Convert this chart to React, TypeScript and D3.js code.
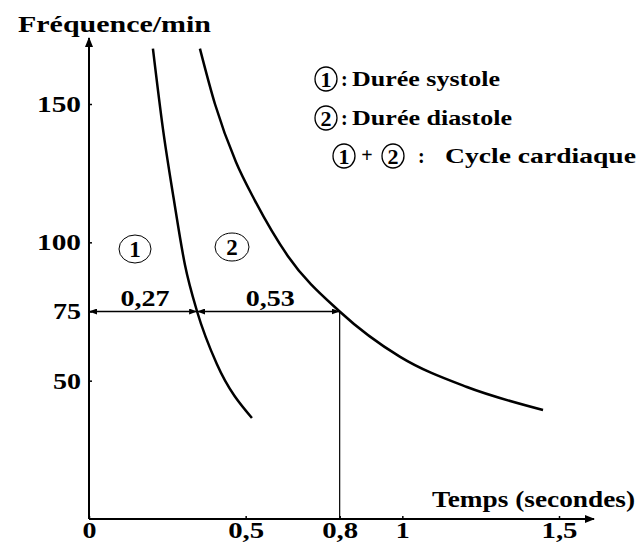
import { useCallback, useEffect, useRef } from 'react';

import {
  axisBottom,
  axisLeft,
  curveMonotoneX,
  line,
  scaleLinear,
  select,
} from 'd3';

// systole duration (1) : time in seconds vs heart rate (beats/min)
const systoleTime = [0.204, 0.236, 0.27, 0.306, 0.345, 0.408, 0.52];
const systoleFreq = [170, 141, 116, 92, 75, 56, 36.5];

// cardiac cycle duration (1)+(2)
const cycleTime = [0.354, 0.402, 0.469, 0.53, 0.635, 0.8, 0.993, 1.206, 1.449];
const cycleFreq = [170, 150, 129, 115, 95, 75, 58.6, 47.7, 39.4];

const xTicks = [0, 0.5, 0.8, 1, 1.5];
const yTicks = [50, 75, 100, 150];

const refFreq = 75;
const refSystole = 0.345;
const refCycle = 0.8;
const systoleLabel = '0,27';
const diastoleLabel = '0,53';

const legendRows = ['Durée systole', 'Durée diastole', 'Cycle cardiaque'];

const FONT = "'Liberation Serif', 'Times New Roman', serif";

export default function App() {
  const containerRef = useRef<HTMLDivElement>(null);

  const initChart = useCallback(() => {
    const container = containerRef.current;
    if (!container) return;

    const width = 638,
      height = 545;

    const div = select(container);
    div.select('svg').remove();

    const svg = div
      .append('svg')
      .attr('width', width)
      .attr('height', height)
      .style('display', 'block')
      .attr('font-family', FONT)
      .attr('font-weight', 'bold');

    svg.append('rect').attr('width', width).attr('height', height).attr('fill', '#fff');

    const x = scaleLinear().domain([0, 1.5]).range([89, 559]);
    const y = scaleLinear().domain([0, 150]).range([519, 104]);

    // arrow markers
    const defs = svg.append('defs');
    defs
      .append('marker')
      .attr('id', 'head')
      .attr('viewBox', '0 0 8 6')
      .attr('refX', 8)
      .attr('refY', 3)
      .attr('markerWidth', 8)
      .attr('markerHeight', 6)
      .attr('markerUnits', 'userSpaceOnUse')
      .attr('orient', 'auto-start-reverse')
      .append('path')
      .attr('d', 'M0,0L8,3L0,6Z')
      .attr('fill', '#000');
    defs
      .append('marker')
      .attr('id', 'axishead')
      .attr('viewBox', '0 0 10 8')
      .attr('refX', 9)
      .attr('refY', 4)
      .attr('markerWidth', 10)
      .attr('markerHeight', 8)
      .attr('markerUnits', 'userSpaceOnUse')
      .attr('orient', 'auto')
      .append('path')
      .attr('d', 'M0,0L10,4L0,8Z')
      .attr('fill', '#000');

    // axes lines with arrows
    svg
      .append('line')
      .attr('x1', x(0))
      .attr('y1', y(0))
      .attr('x2', x(0))
      .attr('y2', 38)
      .attr('stroke', '#000')
      .attr('stroke-width', 2)
      .attr('marker-end', 'url(#axishead)');
    svg
      .append('line')
      .attr('x1', x(0))
      .attr('y1', y(0))
      .attr('x2', 594)
      .attr('y2', y(0))
      .attr('stroke', '#000')
      .attr('stroke-width', 2)
      .attr('marker-end', 'url(#axishead)');

    // X axis ticks
    svg
      .append('g')
      .attr('transform', `translate(0,${y(0)})`)
      .call(
        axisBottom(x)
          .tickValues(xTicks)
          .tickSize(-3)
          .tickPadding(3)
          .tickFormat((d) => String(d).replace('.', ','))
      )
      .call((g) => {
        g.select('.domain').remove();
        g.selectAll('line').attr('stroke-width', 1.5);
        g.selectAll<SVGTextElement, number>('text')
          .attr('font-family', FONT)
          .attr('font-weight', 'bold')
          .attr('font-size', 23)
          .attr('fill', '#000')
          .attr('textLength', (d) => (String(d).length > 1 ? 36 : 14))
          .attr('lengthAdjust', 'spacingAndGlyphs');
      });

    // Y axis ticks
    svg
      .append('g')
      .attr('transform', `translate(${x(0)},0)`)
      .call(axisLeft(y).tickValues(yTicks).tickSize(-3).tickPadding(8))
      .call((g) => {
        g.select('.domain').remove();
        g.selectAll('line').attr('stroke-width', 1.5);
        g.selectAll<SVGTextElement, number>('text')
          .attr('font-family', FONT)
          .attr('font-weight', 'bold')
          .attr('font-size', 23)
          .attr('fill', '#000')
          .attr('textLength', (d) => (d >= 100 ? 44 : 28))
          .attr('lengthAdjust', 'spacingAndGlyphs');
      });

    // axis titles
    svg
      .append('text')
      .attr('x', 18)
      .attr('y', 32)
      .attr('font-size', 24)
      .attr('textLength', 193)
      .attr('lengthAdjust', 'spacingAndGlyphs')
      .text('Fréquence/min');
    svg
      .append('text')
      .attr('x', 432)
      .attr('y', 507)
      .attr('font-size', 23)
      .attr('textLength', 203)
      .attr('lengthAdjust', 'spacingAndGlyphs')
      .text('Temps (secondes)');

    // curves
    const curve = line<[number, number]>()
      .x((d) => x(d[0]))
      .y((d) => y(d[1]))
      .curve(curveMonotoneX);

    const curves = [
      systoleTime.map((t, i) => [t, systoleFreq[i]] as [number, number]),
      cycleTime.map((t, i) => [t, cycleFreq[i]] as [number, number]),
    ];
    svg
      .append('g')
      .selectAll('path')
      .data(curves)
      .join('path')
      .attr('d', (d) => curve(d))
      .attr('fill', 'none')
      .attr('stroke', '#000')
      .attr('stroke-width', 2.5);

    // reference lines at 75 / min
    svg
      .append('line')
      .attr('x1', x(refCycle))
      .attr('y1', y(refFreq))
      .attr('x2', x(refCycle))
      .attr('y2', y(0))
      .attr('stroke', '#000')
      .attr('stroke-width', 1.2);
    const spans = [
      { a: 0, b: refSystole, label: systoleLabel },
      { a: refSystole, b: refCycle, label: diastoleLabel },
    ];
    spans.forEach((s) => {
      svg
        .append('line')
        .attr('x1', x(s.a))
        .attr('y1', y(refFreq))
        .attr('x2', x(s.b))
        .attr('y2', y(refFreq))
        .attr('stroke', '#000')
        .attr('stroke-width', 1.5)
        .attr('marker-start', 'url(#head)')
        .attr('marker-end', 'url(#head)');
      svg
        .append('text')
        .attr('x', (x(s.a) + x(s.b)) / 2 + 2)
        .attr('y', y(refFreq) - 6)
        .attr('text-anchor', 'middle')
        .attr('font-size', 24)
        .attr('textLength', 49)
        .attr('lengthAdjust', 'spacingAndGlyphs')
        .text(s.label);
    });

    // circled numbers
    const circled = (cx: number, cy: number, label: string, rx: number, ry: number, fs: number, sw: number) => {
      const g = svg.append('g');
      g.append('ellipse')
        .attr('cx', cx)
        .attr('cy', cy)
        .attr('rx', rx)
        .attr('ry', ry)
        .attr('fill', 'none')
        .attr('stroke', '#000')
        .attr('stroke-width', sw);
      g.append('text')
        .attr('x', cx)
        .attr('y', cy)
        .attr('dy', '0.35em')
        .attr('text-anchor', 'middle')
        .attr('font-size', fs)
        .text(label);
    };
    circled(135, 249, '1', 16, 14, 23, 1);
    circled(232, 247, '2', 17, 14, 23, 1);

    // legend
    const rowY = [79, 118, 156];
    circled(326, rowY[0], '1', 11, 12, 22, 1.3);
    circled(326, rowY[1], '2', 11, 12, 22, 1.3);
    circled(344, rowY[2], '1', 11, 12, 22, 1.3);
    circled(393, rowY[2], '2', 11, 12, 22, 1.3);
    svg
      .append('text')
      .attr('x', 367)
      .attr('y', rowY[2] + 6)
      .attr('text-anchor', 'middle')
      .attr('font-size', 20)
      .text('+');

    const colonX = [341, 341, 418];
    const textX = [352, 352, 445];
    const textLen = [148, 160, 191];
    legendRows.forEach((label, i) => {
      svg
        .append('text')
        .attr('x', colonX[i])
        .attr('y', rowY[i] + 7)
        .attr('font-size', 20)
        .text(':');
      svg
        .append('text')
        .attr('x', textX[i])
        .attr('y', rowY[i] + 7)
        .attr('font-size', 22)
        .attr('textLength', textLen[i])
        .attr('lengthAdjust', 'spacingAndGlyphs')
        .text(label);
    });
  }, []);

  const destroyChart = useCallback(() => {
    const container = containerRef.current;
    if (!container) return;

    select(container).select('svg').remove();
  }, []);

  useEffect(() => {
    initChart();
    return destroyChart;
  }, [destroyChart, initChart]);

  return <div ref={containerRef} style={{ position: 'absolute', left: 0, top: 0 }} />;
}
